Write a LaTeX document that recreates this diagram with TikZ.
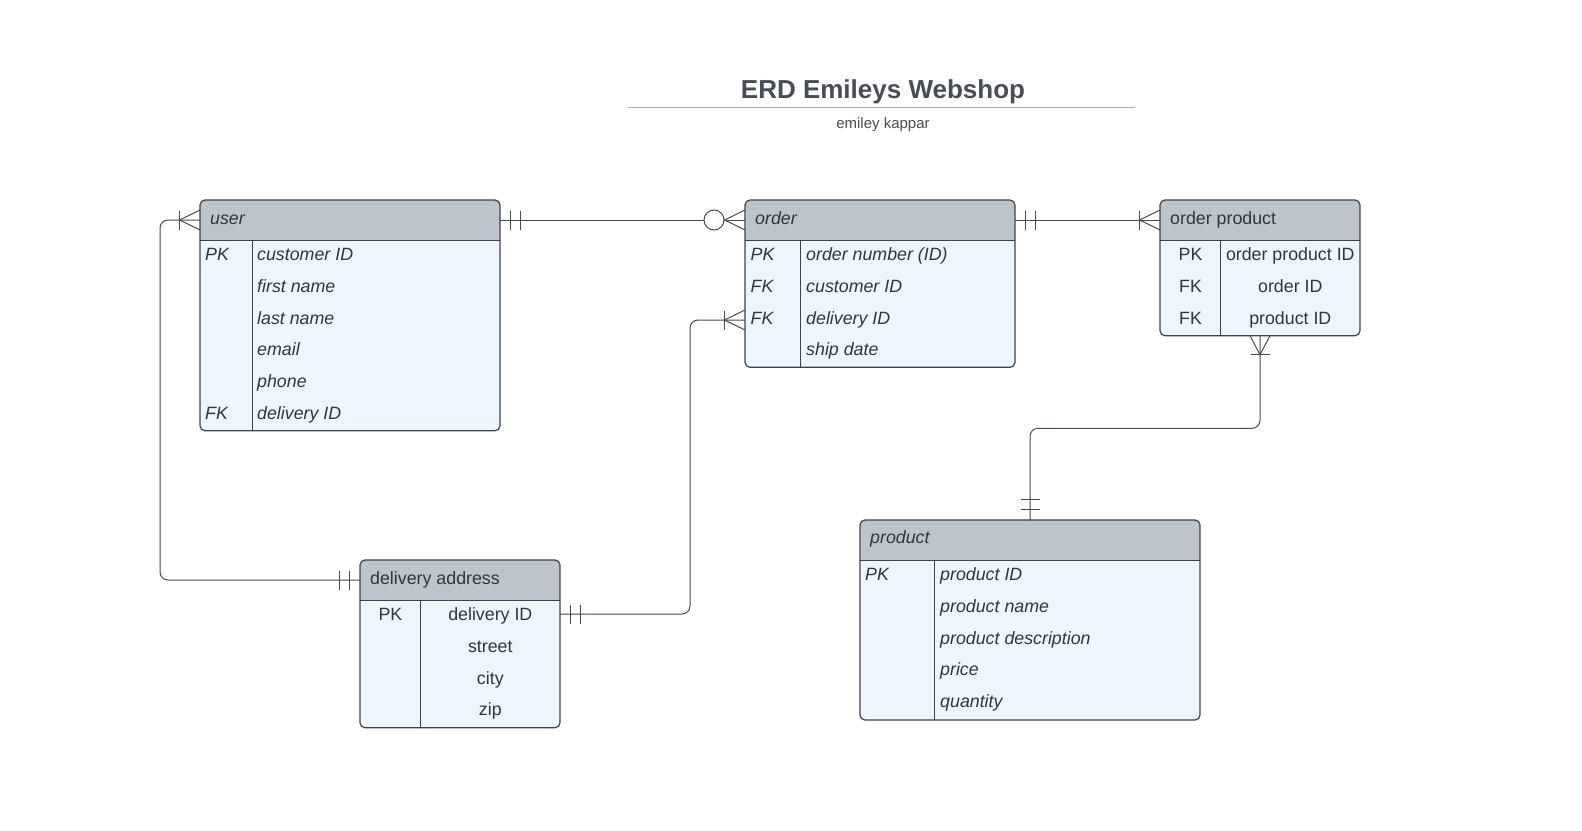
\documentclass[tikz,border=0pt]{standalone}
\usepackage{fontspec}
\setmainfont{Liberation Sans}
\usetikzlibrary{calc}
\definecolor{bordcol}{HTML}{3D434B}
\definecolor{conncol}{HTML}{454B54}
\definecolor{headcol}{HTML}{BEC4CC}
\definecolor{bodycol}{HTML}{EDF5FF}
\definecolor{txtcol}{HTML}{30363E}
\definecolor{titlecol}{HTML}{474E58}
\definecolor{rulecol}{HTML}{A4A9B3}
\newcommand\erdBarV[2]{\draw[conn] ($(#1)+(#2,-9.5)$) -- ($(#1)+(#2,9.5)$);}
\newcommand\erdBarH[2]{\draw[conn] ($(#1)+(-9.5,#2)$) -- ($(#1)+(9.5,#2)$);}
\newcommand\erdCrowW[1]{\draw[conn] ($(#1)+(0,-10)$) -- ($(#1)+(-20.5,0)$) -- ($(#1)+(0,10)$);}
\newcommand\erdCrowS[1]{\draw[conn] ($(#1)+(-10,0)$) -- ($(#1)+(0,19)$) -- ($(#1)+(10,0)$);}
\begin{document}
\begin{tikzpicture}[x=1pt,y=-1pt,
 entity/.style={draw=bordcol, line width=1.2pt, fill=bodycol, rounded corners=5pt, anchor=north west, inner sep=0pt, outer sep=0pt,
   path picture={\fill[headcol, sharp corners] (path picture bounding box.north west) rectangle ([yshift=-40.5pt]path picture bounding box.north east);}},
 sep/.style={draw=bordcol, line width=1.2pt},
 conn/.style={draw=conncol, line width=1pt},
 txt/.style={inner sep=0pt, text=txtcol, font=\fontsize{17.8}{20}\selectfont},
 itxt/.style={inner sep=0pt, text=txtcol, font=\fontsize{17.8}{20}\selectfont\itshape},
]
\fill[white] (0,0) rectangle (1582,830);
\useasboundingbox (0,0) rectangle (1582,830);

% title
\node[anchor=base, inner sep=0pt, text=titlecol, font=\fontsize{26}{30}\selectfont\bfseries] (title) at (883,98.5) {ERD Emileys Webshop};
\coordinate (ruleL) at (628,107.7);
\coordinate (ruleR) at (1135,107.7);
\draw[rulecol, line width=1.5pt] (ruleL) -- (ruleR);
\node[anchor=base, inner sep=0pt, text=titlecol, font=\fontsize{15}{18}\selectfont] (subtitle) at (883,128.5) {emiley kappar};

% ---------- user
\node[entity, minimum width=300pt, minimum height=230.7pt] (user) at (200,200) {};
\draw[sep] ([yshift=-40.5pt]user.north west) -- ([yshift=-40.5pt]user.north east);
\draw[sep] ([xshift=52.3pt,yshift=-40.5pt]user.north west) -- ([xshift=52.3pt]user.south west);
\node[itxt, anchor=base west] (userT) at ($(user.north west)+(10,24.3)$) {user};
\foreach \t [count=\i from 0] in {customer ID,first name,last name,email,phone,delivery ID}
  \node[itxt, anchor=base west] (userF\i) at ($(user.north west)+(57,60.4+31.8*\i)$) {\t};
\node[itxt, anchor=base west] (userK0) at ($(user.north west)+(5,60.4)$) {PK};
\node[itxt, anchor=base west] (userK5) at ($(user.north west)+(5,60.4+31.8*5)$) {FK};

% ---------- order
\node[entity, minimum width=270pt, minimum height=167.3pt] (order) at (745,200) {};
\draw[sep] ([yshift=-40.5pt]order.north west) -- ([yshift=-40.5pt]order.north east);
\draw[sep] ([xshift=55.3pt,yshift=-40.5pt]order.north west) -- ([xshift=55.3pt]order.south west);
\node[itxt, anchor=base west] (orderT) at ($(order.north west)+(10,24.3)$) {order};
\foreach \t [count=\i from 0] in {order number (ID),customer ID,delivery ID,ship date}
  \node[itxt, anchor=base west] (orderF\i) at ($(order.north west)+(61,60.4+31.8*\i)$) {\t};
\foreach \k [count=\i from 0] in {PK,FK,FK}
  \node[itxt, anchor=base west] (orderK\i) at ($(order.north west)+(5.5,60.4+31.8*\i)$) {\k};

% ---------- order product
\node[entity, minimum width=200pt, minimum height=135.7pt] (op) at (1160,200) {};
\draw[sep] ([yshift=-40.5pt]op.north west) -- ([yshift=-40.5pt]op.north east);
\draw[sep] ([xshift=60.7pt,yshift=-40.5pt]op.north west) -- ([xshift=60.7pt]op.south west);
\node[txt, anchor=base west] (opT) at ($(op.north west)+(10,24.3)$) {order product};
\foreach \t [count=\i from 0] in {order product ID,order ID,product ID}
  \node[txt, anchor=base] (opF\i) at ($(op.north west)+(130.3,60.4+31.8*\i)$) {\t};
\foreach \k [count=\i from 0] in {PK,FK,FK}
  \node[txt, anchor=base] (opK\i) at ($(op.north west)+(30.6,60.4+31.8*\i)$) {\k};

% ---------- delivery address
\node[entity, minimum width=200pt, minimum height=167.7pt] (da) at (360,560) {};
\draw[sep] ([yshift=-40.5pt]da.north west) -- ([yshift=-40.5pt]da.north east);
\draw[sep] ([xshift=60.7pt,yshift=-40.5pt]da.north west) -- ([xshift=60.7pt]da.south west);
\node[txt, anchor=base west] (daT) at ($(da.north west)+(10,24.3)$) {delivery address};
\foreach \t [count=\i from 0] in {delivery ID,street,city,zip}
  \node[txt, anchor=base] (daF\i) at ($(da.north west)+(130.3,60.4+31.8*\i)$) {\t};
\node[txt, anchor=base] (daK0) at ($(da.north west)+(30.4,60.4)$) {PK};

% ---------- product
\node[entity, minimum width=340pt, minimum height=200pt] (prod) at (860,520) {};
\draw[sep] ([yshift=-40.5pt]prod.north west) -- ([yshift=-40.5pt]prod.north east);
\draw[sep] ([xshift=74.3pt,yshift=-40.5pt]prod.north west) -- ([xshift=74.3pt]prod.south west);
\node[itxt, anchor=base west] (prodT) at ($(prod.north west)+(10,23.5)$) {product};
\foreach \t [count=\i from 0] in {product ID,product name,product description,price,quantity}
  \node[itxt, anchor=base west] (prodF\i) at ($(prod.north west)+(80,60.4+31.8*\i)$) {\t};
\node[itxt, anchor=base west] (prodK0) at ($(prod.north west)+(5,60.4)$) {PK};

% ---------- connection points
\coordinate (userE) at ([yshift=-20pt]user.north east);
\coordinate (userW) at ([yshift=-20pt]user.north west);
\coordinate (orderW) at ([yshift=-20pt]order.north west);
\coordinate (orderE) at ([yshift=-20pt]order.north east);
\coordinate (orderFK) at ([yshift=-120pt]order.north west);
\coordinate (opW) at ([yshift=-20pt]op.north west);
\coordinate (daW) at ([yshift=-20pt]da.north west);
\coordinate (daE) at ([yshift=-54pt]da.north east);

% user -- order
\draw[conn] (userE) -- (orderW);
\erdBarV{userE}{10.5}
\erdBarV{userE}{20.5}
\erdCrowW{orderW}
\draw[conn, fill=white] ($(orderW)+(-31,0)$) circle (10pt);

% order -- order product
\draw[conn] (orderE) -- (opW);
\erdBarV{orderE}{10.5}
\erdBarV{orderE}{20.5}
\erdCrowW{opW}
\erdBarV{opW}{-20.5}

% user -- delivery address
\draw[conn, rounded corners=8pt] (userW) -- ($(userW)+(-40,0)$) |- (daW);
\erdCrowW{userW}
\erdBarV{userW}{-20.5}
\erdBarV{daW}{-20.5}
\erdBarV{daW}{-10.5}

% delivery address -- order
\draw[conn, rounded corners=8pt] (daE) -- ($(daE)+(130,0)$) |- (orderFK);
\erdBarV{daE}{10.5}
\erdBarV{daE}{20.5}
\erdCrowW{orderFK}
\erdBarV{orderFK}{-20.5}

% order product -- product
\draw[conn, rounded corners=8pt] (op.south) -- ($(op.south)+(0,92.6)$) -| (prod.north);
\erdCrowS{op.south}
\erdBarH{op.south}{19}
\erdBarH{prod.north}{-20.5}
\erdBarH{prod.north}{-10.5}
\end{tikzpicture}
\end{document}
